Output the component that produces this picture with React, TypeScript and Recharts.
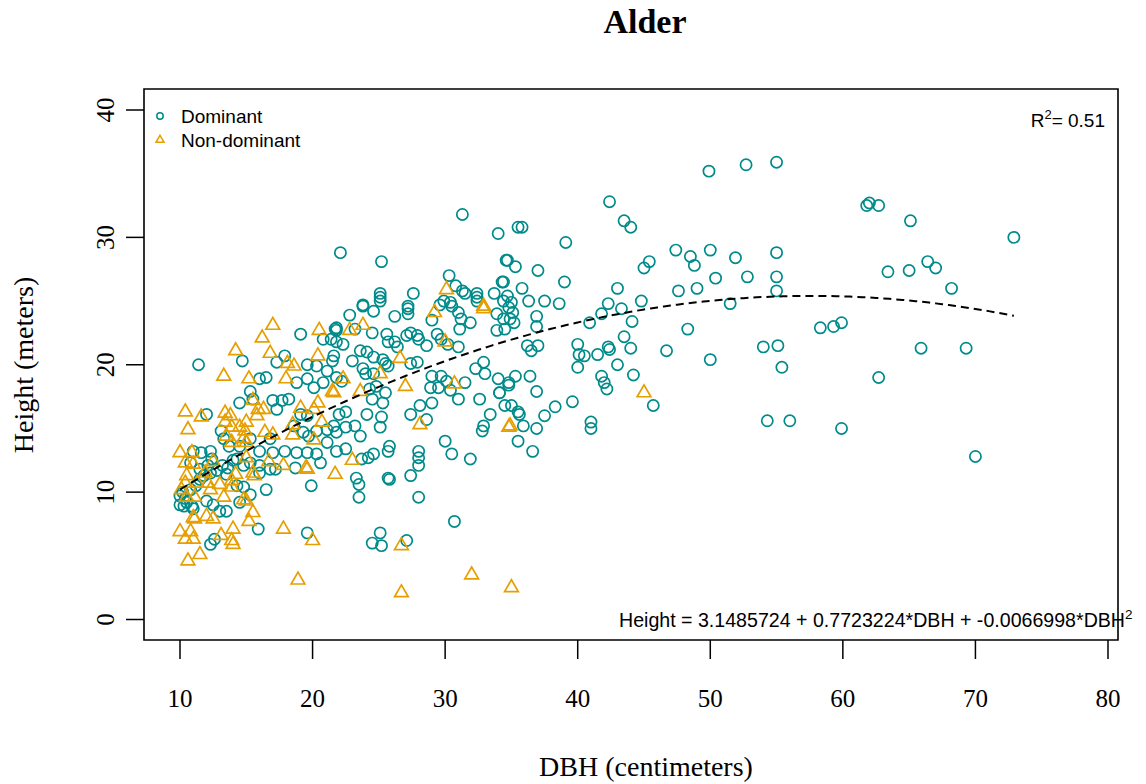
import React from 'react';
import { ScatterChart, Scatter, XAxis, YAxis, ReferenceArea } from 'recharts';

// ---- Alder: tree height vs. diameter at breast height ----

const WIDTH = 1146;
const HEIGHT = 784;

const TEAL = '#008B8B';
const ORANGE = '#E69F00';
const SERIF = '"Liberation Serif", "Times New Roman", Times, serif';
const SANS = '"Liberation Sans", Arial, Helvetica, sans-serif';

const TITLE = 'Alder';
const X_LABEL = 'DBH (centimeters)';
const Y_LABEL = 'Height (meters)';
const SERIES_NAMES = ['Dominant', 'Non-dominant'];

const X_TICKS = [10, 20, 30, 40, 50, 60, 70, 80];
const Y_TICKS = [0, 10, 20, 30, 40];
const X_DOMAIN: [number, number] = [7.284, 80.755];
const Y_DOMAIN: [number, number] = [-1.609, 41.649];

// quadratic fit: Height = b0 + b1*DBH + b2*DBH^2
const FIT_COEF = [3.1485724, 0.7723224, -0.0066998];
const FIT_RANGE: [number, number] = [10, 72.9];
const R_SQUARED = 0.51;

// dominant trees, [DBH cm, height m]
const dominantSmall: [number, number][] = [
  [10.0, 9.0], [10.0, 9.7], [10.2, 10.0], [10.3, 8.9], [10.4, 9.5], [10.5, 9.2], [10.8, 10.2], [10.8, 12.3],
  [10.9, 8.9], [11.0, 8.7], [11.0, 13.2], [11.2, 10.5], [11.4, 20.0], [11.5, 11.0], [11.5, 11.8], [11.6, 13.1],
  [11.8, 11.3], [12.0, 9.3], [12.0, 16.1], [12.1, 12.1], [12.3, 5.9], [12.3, 11.5], [12.3, 13.2], [12.4, 12.6],
  [12.5, 9.0], [12.6, 6.3], [12.8, 11.7], [13.0, 8.5], [13.1, 14.8], [13.2, 12.1], [13.3, 14.2], [13.5, 8.5],
  [13.5, 11.4], [13.6, 11.9], [13.7, 13.6], [14.0, 12.5], [14.3, 10.5], [14.3, 12.6], [14.5, 9.2], [14.5, 13.6],
  [14.5, 17.0], [14.7, 20.3], [14.8, 10.4], [14.8, 12.1], [15.3, 9.8], [15.3, 12.3], [15.3, 14.2], [15.3, 17.9],
  [15.5, 17.3], [15.9, 7.1], [16.0, 11.5], [16.0, 12.1], [16.0, 13.2], [16.0, 18.9], [16.5, 10.2], [16.5, 19.0],
  [16.8, 11.8], [16.8, 14.2], [17.0, 13.1], [17.0, 17.2], [17.2, 11.8], [17.3, 16.5], [17.3, 20.2], [17.7, 17.2],
  [17.9, 13.2], [17.9, 20.7], [18.2, 17.3], [18.6, 15.2], [18.7, 11.9], [18.8, 13.1], [18.8, 18.6], [19.1, 16.1],
  [19.1, 22.4], [19.3, 14.7], [19.6, 6.8], [19.6, 13.1], [19.6, 16.0], [19.6, 18.9], [19.6, 20.0], [19.7, 14.4],
  [19.9, 10.5], [20.1, 18.2], [20.3, 13.0], [20.3, 14.8], [20.3, 19.9], [20.6, 12.3], [20.8, 18.6], [20.8, 22.0],
  [21.1, 13.9], [21.1, 14.9], [21.1, 19.5], [21.4, 22.0], [21.8, 14.7], [21.8, 21.8], [21.8, 22.7], [21.8, 22.9],
];

const dominantMedium: [number, number][] = [
  [22.8, 23.9], [23.8, 24.6], [24.6, 24.2], [25.1, 25.0], [26.2, 23.8], [27.2, 24.4], [27.2, 24.0], [29.0, 23.5],
  [29.9, 25.0], [30.4, 24.9], [31.0, 24.1], [31.2, 23.6], [31.9, 23.3], [31.1, 22.8], [32.4, 25.0], [33.9, 24.0],
  [34.4, 23.6], [33.9, 22.7], [34.5, 22.8], [34.4, 25.0], [21.7, 22.8], [22.3, 21.6], [23.2, 22.8], [24.5, 22.5],
  [25.6, 22.4], [25.7, 21.8], [26.2, 21.8], [26.4, 21.4], [27.1, 22.3], [27.4, 22.5], [27.9, 22.3], [28.0, 22.0],
  [29.4, 22.4], [29.7, 22.0], [30.2, 21.6], [31.0, 21.4], [28.6, 21.5], [21.6, 20.7], [21.5, 20.3], [23.0, 20.3],
  [23.6, 21.1], [24.1, 21.0], [24.6, 20.6], [25.3, 20.4], [25.5, 20.1], [25.7, 19.9], [27.4, 20.1], [27.9, 20.2],
  [23.8, 19.7], [24.0, 19.3], [24.6, 19.3], [21.8, 19.0], [22.2, 18.7], [24.8, 18.3], [24.3, 18.1], [25.5, 17.8],
  [25.3, 17.0], [24.5, 17.3], [29.0, 19.1], [29.7, 19.1], [30.1, 18.7], [28.9, 18.2], [29.5, 18.2], [30.4, 18.0],
  [31.5, 18.6], [32.3, 19.7], [32.9, 20.2], [33.0, 19.3], [34.0, 18.9], [34.1, 17.8], [34.8, 18.6], [31.0, 17.3],
  [32.6, 17.3], [34.5, 16.8], [28.1, 16.8], [27.4, 16.1], [29.0, 17.0], [28.6, 15.7], [25.2, 15.9], [25.1, 15.1],
  [24.1, 16.1], [23.2, 15.2], [23.6, 14.4], [22.5, 15.1], [21.6, 15.2], [22.0, 16.1], [22.5, 16.3], [33.4, 16.1],
  [32.9, 15.2], [32.8, 14.8], [30.0, 14.0], [30.5, 13.0], [31.9, 12.6], [28.0, 13.2], [28.0, 12.7], [28.0, 12.1],
  [25.8, 13.6], [25.7, 13.2], [24.6, 13.0], [24.2, 12.7], [23.7, 12.6], [21.8, 13.2], [22.5, 13.4], [25.7, 11.1],
  [27.4, 11.3], [23.3, 11.1], [23.5, 10.6], [23.5, 9.6], [25.8, 11.0], [28.0, 9.6], [30.7, 7.7], [25.1, 6.8],
  [24.5, 6.0], [25.2, 5.8], [27.1, 6.2], [31.3, 31.8], [34.0, 30.3], [22.1, 28.8], [25.2, 28.1], [34.6, 28.2],
  [30.3, 27.0], [30.8, 26.2], [31.3, 25.8], [31.5, 25.6], [32.4, 25.6], [32.4, 25.3], [33.7, 25.6], [34.3, 26.5],
  [25.1, 25.6], [25.1, 25.3], [27.6, 25.6], [23.8, 24.7], [27.2, 24.6], [29.6, 24.7], [30.5, 24.6],
];

const dominantLarge: [number, number][] = [
  [49.9, 35.2], [52.7, 35.7], [42.4, 32.8], [43.5, 31.3], [44.0, 30.8], [35.5, 30.8], [35.8, 30.8], [39.1, 29.6],
  [47.4, 29.0], [48.5, 28.5], [48.8, 27.8], [50.0, 29.0], [51.9, 28.4], [52.8, 26.9], [45.0, 27.6], [45.4, 28.1],
  [34.7, 28.2], [35.3, 27.7], [37.0, 27.4], [34.4, 26.5], [50.4, 26.8], [49.0, 26.0], [47.6, 25.8], [51.5, 24.8],
  [39.0, 26.5], [35.8, 26.0], [43.0, 26.0], [44.8, 25.0], [36.3, 25.0], [37.5, 25.0], [38.6, 24.8], [34.7, 25.4],
  [35.0, 24.9], [34.8, 24.5], [35.1, 24.1], [34.9, 23.6], [35.2, 23.3], [36.9, 23.8], [36.9, 23.0], [42.3, 24.8],
  [41.8, 24.0], [43.3, 24.4], [44.1, 23.4], [40.9, 23.3], [48.3, 22.8], [46.7, 21.1], [50.0, 20.4], [43.5, 22.2],
  [44.0, 21.3], [42.3, 21.4], [42.4, 21.2], [40.0, 21.6], [40.1, 20.8], [40.5, 20.7], [41.5, 20.8], [40.0, 19.8],
  [43.0, 20.0], [44.2, 19.2], [41.8, 19.1], [42.0, 18.6], [42.2, 18.1], [36.2, 21.5], [36.5, 21.1], [37.0, 21.5],
  [35.3, 19.1], [36.4, 19.1], [34.8, 18.4], [34.1, 17.8], [36.9, 17.9], [39.6, 17.1], [38.3, 16.7], [37.5, 16.0],
  [35.0, 16.8], [35.5, 16.3], [35.6, 16.1], [35.9, 15.2], [36.9, 15.0], [35.5, 14.0], [36.6, 13.2], [41.0, 15.5],
  [41.0, 15.0], [45.7, 16.8], [55.0, 35.9], [61.8, 32.5], [62.0, 32.7], [62.7, 32.5], [65.1, 31.3], [55.0, 28.8],
  [55.0, 26.9], [55.0, 25.8], [63.4, 27.3], [65.0, 27.4], [66.4, 28.1], [67.0, 27.6], [68.2, 26.0], [58.3, 22.9],
  [59.3, 23.0], [59.9, 23.3], [54.0, 21.4], [55.1, 21.5], [55.4, 19.8], [65.9, 21.3], [69.3, 21.3], [62.7, 19.0],
  [54.3, 15.6], [56.0, 15.6], [59.9, 15.0], [70.0, 12.8], [72.9, 30.0],
];

// non-dominant trees, [DBH cm, height m]
const nonDominant: [number, number][] = [
  [10.4, 10.7], [11.3, 10.7], [12.1, 10.7], [12.3, 10.2], [13.9, 10.9], [13.9, 10.4], [13.0, 10.6], [10.1, 10.2],
  [10.5, 9.6], [11.1, 9.6], [13.3, 9.6], [14.8, 9.4], [15.0, 9.3], [15.5, 8.4], [15.2, 7.7], [11.0, 8.0],
  [11.1, 7.9], [12.0, 8.1], [12.5, 7.9], [10.0, 6.9], [10.8, 6.9], [10.4, 6.3], [11.0, 6.3], [13.1, 6.6],
  [14.0, 7.1], [13.9, 6.2], [14.0, 5.9], [10.6, 4.6], [11.5, 5.1], [17.8, 7.1], [20.0, 6.2], [18.9, 3.1],
  [15.6, 11.3], [19.6, 11.8], [21.7, 11.4], [17.0, 23.1], [16.2, 22.1], [14.2, 21.1], [16.8, 20.9], [13.3, 19.1],
  [15.2, 18.9], [18.1, 20.1], [18.6, 19.9], [18.0, 18.9], [20.5, 22.7], [20.4, 20.7], [21.5, 17.9], [10.4, 16.3],
  [11.6, 15.9], [10.6, 14.9], [13.4, 16.2], [13.8, 16.0], [15.5, 17.2], [15.9, 16.5], [15.8, 16.0], [16.3, 16.5],
  [13.4, 15.5], [13.9, 15.1], [14.5, 15.1], [15.0, 15.5], [13.5, 14.4], [13.9, 13.9], [14.8, 14.2], [14.9, 14.8],
  [15.0, 13.9], [16.4, 14.7], [17.0, 14.5], [18.5, 15.3], [18.5, 14.5], [19.1, 16.6], [20.1, 16.5], [20.4, 17.0],
  [20.7, 15.5], [20.1, 14.1], [10.0, 13.1], [10.9, 13.1], [10.4, 12.3], [11.0, 12.2], [12.5, 12.4], [15.0, 12.7],
  [16.7, 12.4], [17.8, 12.1], [19.5, 11.9], [10.5, 11.3], [11.9, 11.5], [14.2, 11.4], [15.5, 11.5], [29.2, 24.1],
  [32.9, 24.4], [22.8, 22.7], [23.8, 23.1], [30.0, 21.8], [26.6, 20.5], [25.1, 19.3], [22.3, 18.9], [23.6, 17.9],
  [21.6, 17.8], [27.0, 18.3], [30.7, 18.5], [28.1, 15.3], [34.8, 15.1], [23.0, 12.5], [26.7, 5.8], [32.0, 3.5],
  [26.7, 2.1], [35.0, 2.5], [30.1, 25.9], [32.9, 24.6], [45.0, 17.8], [34.9, 15.2],
];

type Pt = { dbh: number; height: number };
const toPoints = (rows: [number, number][]): Pt[] => rows.map(([dbh, height]) => ({ dbh, height }));

const dominantData = toPoints([...dominantSmall, ...dominantMedium, ...dominantLarge]);
const nonDominantData = toPoints(nonDominant);

// fitted curve sampled along the DBH range
const fitAt = (d: number) => FIT_COEF[0] + FIT_COEF[1] * d + FIT_COEF[2] * d * d;
const fitCurve: Pt[] = [];
for (let d = FIT_RANGE[0]; d < FIT_RANGE[1]; d += 0.5) {
  fitCurve.push({ dbh: d, height: fitAt(d) });
}
fitCurve.push({ dbh: FIT_RANGE[1], height: fitAt(FIT_RANGE[1]) });

// R-style open symbols (pch 1 circle, pch 2 triangle)
const trianglePoints = (cx: number, cy: number, u: number) => {
  const top = 1.5551 * u;
  const half = 1.3468 * u;
  const base = 0.7776 * u;
  return `${cx},${cy - top} ${cx + half},${cy + base} ${cx - half},${cy + base}`;
};

const CircleMark = (p: any) =>
  p.cx == null ? <g /> : <circle cx={p.cx} cy={p.cy} r={5.6} fill="none" stroke={TEAL} strokeWidth={1.7} />;

const TriangleMark = (p: any) =>
  p.cx == null ? (
    <g />
  ) : (
    <polygon points={trianglePoints(p.cx, p.cy, 5.1)} fill="none" stroke={ORANGE} strokeWidth={1.7} />
  );

const NoMark = () => <g />;

const XTick = (p: any) => (
  <text x={p.x} y={p.y + 48} textAnchor="middle" fontFamily={SERIF} fontSize={25} fill="#000">
    {p.payload.value}
  </text>
);

const YTick = (p: any) => {
  const bx = p.x - 12;
  return (
    <text
      x={bx}
      y={p.y}
      transform={`rotate(-90 ${bx} ${p.y})`}
      textAnchor="middle"
      fontFamily={SERIF}
      fontSize={25}
      fill="#000"
    >
      {p.payload.value}
    </text>
  );
};

const fmt = (v: number) => v.toFixed(7);
const equationText = `Height = ${fmt(FIT_COEF[0])} + ${fmt(FIT_COEF[1])}*DBH + ${fmt(FIT_COEF[2])}*DBH`;

export default function App() {
  return (
    <div style={{ position: 'absolute', left: 0, top: 0, width: WIDTH, height: HEIGHT, background: '#fff' }}>
      <ScatterChart
        width={WIDTH}
        height={HEIGHT}
        margin={{ top: 89, right: 28, bottom: 84, left: 84 }}
      >
        <XAxis
          type="number"
          dataKey="dbh"
          domain={X_DOMAIN}
          ticks={X_TICKS}
          allowDataOverflow
          interval={0}
          height={60}
          axisLine={false}
          tickLine={{ stroke: '#000', strokeWidth: 1.5 }}
          tickSize={19}
          tickMargin={0}
          tick={<XTick />}
        />
        <YAxis
          type="number"
          dataKey="height"
          domain={Y_DOMAIN}
          ticks={Y_TICKS}
          allowDataOverflow
          interval={0}
          width={60}
          axisLine={false}
          tickLine={{ stroke: '#000', strokeWidth: 1.5 }}
          tickSize={18}
          tickMargin={0}
          tick={<YTick />}
        />
        <Scatter name={SERIES_NAMES[0]} data={dominantData} shape={CircleMark} isAnimationActive={false} />
        <Scatter name={SERIES_NAMES[1]} data={nonDominantData} shape={TriangleMark} isAnimationActive={false} />
        <Scatter
          data={fitCurve}
          shape={NoMark}
          line={{ stroke: '#000', strokeWidth: 2, strokeDasharray: '8 5', fill: 'none' }}
          lineType="joint"
          legendType="none"
          isAnimationActive={false}
        />
        <ReferenceArea
          x1={X_DOMAIN[0]}
          x2={X_DOMAIN[1]}
          y1={Y_DOMAIN[0]}
          y2={Y_DOMAIN[1]}
          fill="none"
          fillOpacity={0}
          stroke="#000"
          strokeWidth={1.6}
          ifOverflow="visible"
        />
      </ScatterChart>

      <svg
        width={WIDTH}
        height={HEIGHT}
        style={{ position: 'absolute', left: 0, top: 0, pointerEvents: 'none' }}
      >
        <text x={645} y={33} textAnchor="middle" fontFamily={SERIF} fontSize={34} fontWeight="bold" fill="#000">
          {TITLE}
        </text>
        <text x={646} y={776} textAnchor="middle" fontFamily={SERIF} fontSize={28} fill="#000">
          {X_LABEL}
        </text>
        <text
          x={33}
          y={365}
          transform="rotate(-90 33 365)"
          textAnchor="middle"
          fontFamily={SERIF}
          fontSize={28}
          fill="#000"
        >
          {Y_LABEL}
        </text>

        {/* legend */}
        <circle cx={160} cy={116} r={3.2} fill="none" stroke={TEAL} strokeWidth={1.5} />
        <text x={181} y={123} fontFamily={SANS} fontSize={19} fill="#000">
          {SERIES_NAMES[0]}
        </text>
        <polygon points={trianglePoints(160, 140, 3.0)} fill="none" stroke={ORANGE} strokeWidth={1.5} />
        <text x={181} y={147} fontFamily={SANS} fontSize={19} fill="#000">
          {SERIES_NAMES[1]}
        </text>

        {/* goodness of fit */}
        <text x={1105} y={127} textAnchor="end" fontFamily={SANS} fontSize={19} fill="#000">
          R<tspan dy={-8} fontSize={13}>2</tspan>
          <tspan dy={8}>= {R_SQUARED.toFixed(2)}</tspan>
        </text>

        {/* fitted equation */}
        <text x={619} y={627} fontFamily={SANS} fontSize={19.6} fill="#000">
          {equationText}
          <tspan dy={-8} fontSize={13.5}>2</tspan>
        </text>
      </svg>
    </div>
  );
}
